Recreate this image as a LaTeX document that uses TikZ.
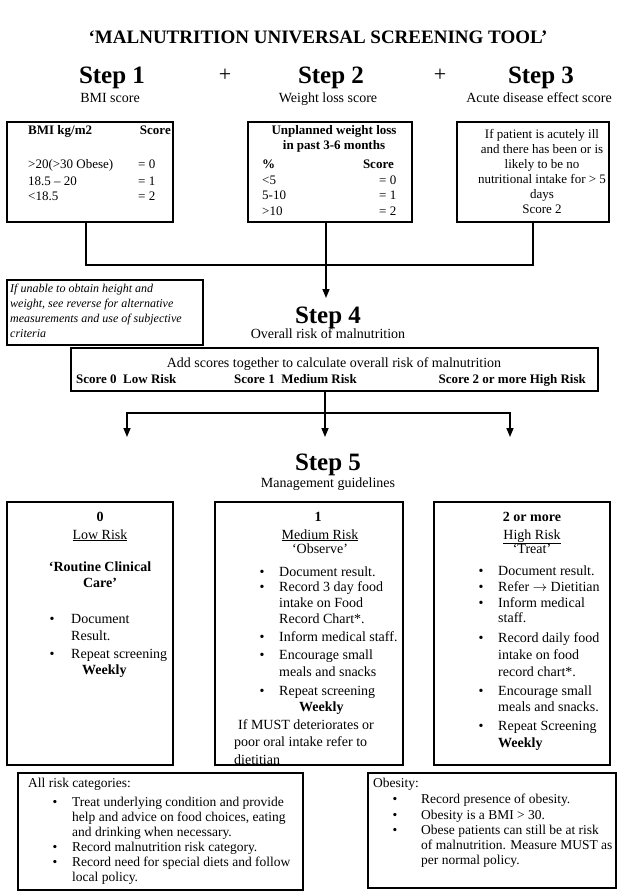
\documentclass[tikz,border=0pt]{standalone}
\usepackage{fontspec}
\setmainfont{Liberation Serif}
\usetikzlibrary{arrows.meta}
\newcommand\fsz[2]{\fontsize{#1}{#2}\selectfont}
\begin{document}
\begin{tikzpicture}[x=1pt,y=-1pt,
  boxst/.style={draw, line width=1.1pt, inner sep=0pt, outer sep=0pt},
  conn/.style={line width=1.5pt},
  arr/.style={conn, -{Triangle[width=7pt,length=9pt]}},
  txc/.style={inner sep=0pt, anchor=base},
  txl/.style={inner sep=0pt, anchor=base west},
  txr/.style={inner sep=0pt, anchor=base east},
  stepf/.style={font=\fsz{25}{28}\bfseries},
  subf/.style={font=\fsz{14}{16}},
  bt/.style={font=\fsz{13}{15}},
  btb/.style={font=\fsz{13}{15}\bfseries},
  mt/.style={font=\fsz{14}{16}},
  mtb/.style={font=\fsz{14}{16}\bfseries},
  lt/.style={font=\fsz{13.5}{15}},
  nt/.style={font=\fsz{12}{15}\itshape}]
\useasboundingbox (0,0) rectangle (618,893);
\fill[white] (0,0) rectangle (618,893);

% header
\node[txc, font=\fsz{19}{22}\bfseries] (title) at (318,44) {‘MALNUTRITION UNIVERSAL SCREENING TOOL’};
\node[txc, stepf] (s1) at (112,84) {Step 1};
\node[txc, subf] (s1s) at (110,103) {BMI score};
\node[txc, font=\fsz{22}{24}] (p1) at (225,82) {+};
\node[txc, stepf] (s2) at (331,84) {Step 2};
\node[txc, subf] (s2s) at (328,103) {Weight loss score};
\node[txc, font=\fsz{22}{24}] (p2) at (440,82) {+};
\node[txc, stepf] (s3) at (541,84) {Step 3};
\node[txc, subf] (s3s) at (539,103) {Acute disease effect score};

% step 1-3 boxes
\node[boxst, minimum width=166pt, minimum height=100pt] (b1) at (90,172) {};
\node[boxst, minimum width=164pt, minimum height=100pt] (b2) at (330,172) {};
\node[boxst, minimum width=152pt, minimum height=100pt] (b3) at (533,172) {};

\node[txl, btb] (b1h) at (28,135) {BMI kg/m2};
\node[txr, btb] (b1s) at (171,135) {Score};
\foreach \yy/\aa/\bb [count=\i] in {169/{>20(>30 Obese)}/{= 0}, 186/{18.5 – 20}/{= 1}, 201/{<18.5}/{= 2}} {
  \node[txl, bt] (b1a\i) at (28,\yy) {\aa};
  \node[txl, bt] (b1b\i) at (138,\yy) {\bb};
}
\node[txc, btb] (b2h1) at (334,135) {Unplanned weight loss};
\node[txc, btb] (b2h2) at (334,150) {in past 3-6 months};
\node[txl, btb] (b2p) at (262,169) {\%};
\node[txr, btb] (b2s) at (394,169) {Score};
\foreach \yy/\aa/\bb [count=\i] in {185/{<5}/{= 0}, 200/{5-10}/{= 1}, 215/{>10}/{= 2}} {
  \node[txl, bt] (b2a\i) at (262,\yy) {\aa};
  \node[txl, bt] (b2b\i) at (379,\yy) {\bb};
}
\foreach \yy/\ss [count=\i] in {139/{If patient is acutely ill}, 154/{and there has been or is}, 169/{likely to be no}, 184/{nutritional intake for > 5}, 199/{days}, 214/{Score 2}} {
  \node[txc, bt] (b3t\i) at (542,\yy) {\ss};
}

% connectors to step 4
\coordinate (j1) at (326,265);
\coordinate (a4) at (326,298);
\draw[conn] ([xshift=-4pt]b1.south) |- (j1) -| (b3.south);
\draw[arr] ([xshift=-4pt]b2.south) -- (a4);

% note box
\node[boxst, minimum width=196pt, minimum height=65pt] (note) at (105,312.5) {};
\foreach \yy/\ss [count=\i] in {292/{If unable to obtain height and}, 307/{weight, see reverse for alternative}, 322/{measurements and use of subjective}, 337/{criteria}} {
  \node[txl, nt] (nt\i) at (10,\yy) {\ss};
}

% step 4
\node[txc, stepf] (s4) at (328,323) {Step 4};
\node[txc, subf] (s4s) at (328,338) {Overall risk of malnutrition};
\node[boxst, minimum width=527pt, minimum height=43pt] (s4box) at (334.5,369.5) {};
\node[txc, mt] (s4l1) at (334,367) {Add scores together to calculate overall risk of malnutrition};
\node[txl, font=\fsz{13}{15}\bfseries] (s4a) at (76,383) {Score 0\ \ Low Risk};
\node[txl, font=\fsz{13}{15}\bfseries] (s4b) at (234,383) {Score 1\ \ Medium Risk};
\node[txr, font=\fsz{13}{15}\bfseries] (s4c) at (586,383) {Score 2 or more High Risk};

\coordinate (j2) at (325,413);
\coordinate (e1) at (127,437);
\coordinate (e2) at (325,437);
\coordinate (e3) at (510,437);
\draw[conn] (j2 |- s4box.south) -- (j2);
\draw[arr] (j2) -| (e1);
\draw[arr] (j2) -- (e2);
\draw[arr] (j2) -| (e3);

% step 5
\node[txc, stepf] (s5) at (328,470) {Step 5};
\node[txc, subf] (s5s) at (328,487) {Management guidelines};

\node[boxst, minimum width=166pt, minimum height=263pt] (lowb) at (90,633.5) {};
\node[boxst, minimum width=188pt, minimum height=263pt] (medb) at (309,633.5) {};
\node[boxst, minimum width=176pt, minimum height=263pt] (highb) at (522,633.5) {};

% low risk
\node[txc, mtb] (l0) at (100,521) {0};
\node[txc, mt] (l1) at (100,539) {\underline{Low Risk}};
\node[txc, mtb] (l2) at (100,571) {‘Routine Clinical};
\node[txc, mtb] (l3) at (100,587) {Care’};
\foreach \yy [count=\i] in {623,658} \node[txc, mt] (lb\i) at (52,\yy) {\textbullet};
\foreach \yy/\ss [count=\i] in {623/{Document}, 640/{Result.}, 658/{Repeat screening}} {
  \node[txl, mt] (lt\i) at (71,\yy) {\ss};
}
\node[txl, mtb] (lw) at (82,674) {Weekly};

% medium risk
\node[txc, mtb] (m0) at (318,521) {1};
\node[txc, mt] (m1) at (320,539) {\underline{Medium Risk}};
\node[txc, mt] (m2) at (320,553) {‘Observe’};
\foreach \yy [count=\i] in {576,591,641,659,695} \node[txc, mt] (mb\i) at (262,\yy) {\textbullet};
\foreach \yy/\ss [count=\i] in {576/{Document result.}, 591/{Record 3 day food}, 607/{intake on Food}, 623/{Record Chart*.}, 641/{Inform medical staff.}, 659/{Encourage small}, 676/{meals and snacks}, 695/{Repeat screening}} {
  \node[txl, mt] (mt\i) at (279,\yy) {\ss};
}
\node[txl, mtb] (mw) at (299,711) {Weekly};
\node[txl, mt] (mi1) at (238,729) {If MUST deteriorates or};
\node[txl, mt] (mi2) at (234,746) {poor oral intake refer to};
\node[txl, mt] (mi3) at (234,764) {dietitian};

% high risk
\node[txc, mtb] (h0) at (532,521) {2 or more};
\node[txc, mt] (h1) at (532,539) {\underline{High Risk}};
\node[txc, mt] (h2) at (532,553) {‘Treat’};
\foreach \yy [count=\i] in {575,591,607,642,695,730} \node[txc, mt] (hb\i) at (481,\yy) {\textbullet};
\foreach \yy/\ss [count=\i] in {575/{Document result.}, 591/{Refer \ensuremath{\rightarrow} Dietitian}, 607/{Inform medical}, 622/{staff.}, 642/{Record daily food}, 659/{intake on food}, 676/{record chart*.}, 695/{Encourage small}, 711/{meals and snacks.}, 730/{Repeat Screening}} {
  \node[txl, mt] (ht\i) at (498,\yy) {\ss};
}
\node[txl, mtb] (hw) at (498,747) {Weekly};

% bottom boxes
\node[boxst, minimum width=285pt, minimum height=117pt] (allb) at (160.5,831.5) {};
\node[boxst, minimum width=248pt, minimum height=115pt] (obeb) at (492,830.5) {};

\node[txl, lt] (ar0) at (28,787) {All risk categories:};
\foreach \yy [count=\i] in {806,851,866} \node[txc, lt] (arb\i) at (55,\yy) {\textbullet};
\foreach \yy/\ss [count=\i] in {806/{Treat underlying condition and provide}, 821/{help and advice on food choices, eating}, 836/{and drinking when necessary.}, 851/{Record malnutrition risk category.}, 866/{Record need for special diets and follow}, 881/{local policy.}} {
  \node[txl, lt] (art\i) at (72,\yy) {\ss};
}

\node[txl, lt] (ob0) at (373,787) {Obesity:};
\foreach \yy [count=\i] in {803,819,834} \node[txc, lt] (obb\i) at (395,\yy) {\textbullet};
\foreach \yy/\ss [count=\i] in {803/{Record presence of obesity.}, 819/{Obesity is a BMI > 30.}, 834/{Obese patients can still be at risk}, 849/{of malnutrition. Measure MUST as}, 864/{per normal policy.}} {
  \node[txl, lt] (obt\i) at (421,\yy) {\ss};
}
\end{tikzpicture}
\end{document}
